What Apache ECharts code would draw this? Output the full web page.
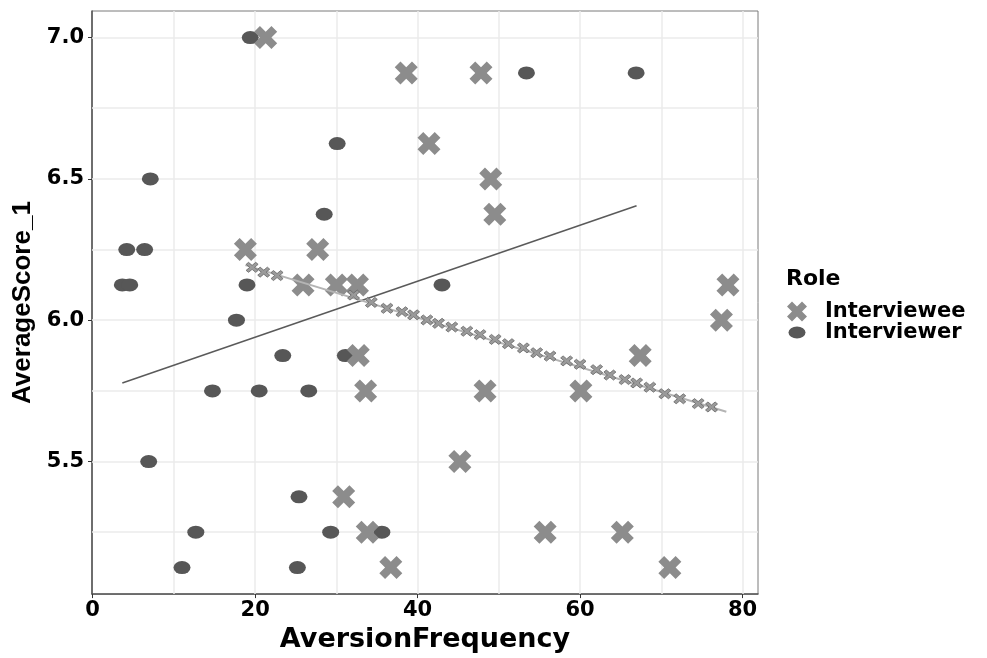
<!DOCTYPE html>
<html>
<head>
<meta charset="utf-8">
<script src="https://cdn.jsdelivr.net/npm/echarts@6/dist/echarts.min.js"></script>
<style>
    html, body { margin: 0; padding: 0; background: #fff; }
    #chart { width: 987px; height: 658px; }
</style>
</head>
<body>
<div id="chart"></div>
<script>
// values
var intervieweeX = [21.3, 18.8, 25.9, 27.7, 38.6, 47.8, 41.4, 49.0, 49.5, 30.0, 32.6, 78.2, 32.7,
    33.6, 48.3, 45.2, 30.9, 33.8, 36.7, 77.4, 67.4, 60.1, 55.7, 65.2, 71.05];
var intervieweeY = [7.0, 6.25, 6.125, 6.25, 6.875, 6.875, 6.625, 6.5, 6.375, 6.125, 6.125, 6.125, 5.875,
    5.75, 5.75, 5.5, 5.375, 5.25, 5.125, 6.0, 5.875, 5.75, 5.25, 5.25, 5.125];

var interviewerX = [19.4, 7.1, 4.2, 6.4, 3.65, 4.57, 19.0, 53.4, 30.1, 28.5, 43.0, 66.9, 17.7,
    23.4, 14.75, 20.5, 26.6, 6.9, 25.4, 12.7, 11.0, 25.2, 31.1, 29.3, 35.6];
var interviewerY = [7.0, 6.5, 6.25, 6.25, 6.125, 6.125, 6.125, 6.875, 6.625, 6.375, 6.125, 6.875, 6.0,
    5.875, 5.75, 5.75, 5.75, 5.5, 5.375, 5.25, 5.125, 5.125, 5.875, 5.25, 5.25];

// fitted lines (end points)
var interviewerFitX = [3.65, 66.95];
var interviewerFitY = [5.778, 6.405];
var intervieweeFitX = [18.8, 78.0];
var intervieweeFitY = [6.195, 5.676];

// small crosses along the interviewee fit
var fitMarkX = [19.63, 21.06, 22.70, 32.12, 34.30, 36.23, 38.07, 39.50, 41.14, 42.57, 44.21, 46.06,
    47.69, 49.54, 51.17, 53.02, 54.66, 56.30, 58.35, 59.99, 62.04, 63.67, 65.52, 66.96, 68.59,
    70.43, 72.27, 74.53, 76.18];
var fitMarkY = [6.187, 6.170, 6.158, 6.089, 6.063, 6.042, 6.030, 6.019, 6.001, 5.989, 5.976, 5.961,
    5.949, 5.932, 5.917, 5.902, 5.885, 5.873, 5.856, 5.844, 5.825, 5.806, 5.790, 5.778, 5.763,
    5.740, 5.722, 5.705, 5.693];

var xTicks = [0, 20, 40, 60, 80];
var yTicks = [5.5, 6.0, 6.5, 7.0];
var xGrid = [10, 20, 30, 40, 50, 60, 70, 80];
var yGrid = [5.25, 5.5, 5.75, 6.0, 6.25, 6.5, 6.75, 7.0];
var roles = ['Interviewee', 'Interviewer'];

var crossPath = 'path://M2.5,0L5,2.5L7.5,0L10,2.5L7.5,5L10,7.5L7.5,10L5,7.5L2.5,10L0,7.5L2.5,5L0,2.5Z';
var smallCross = 'path://M2,0L5,3L8,0L10,2L7,5L10,8L8,10L5,7L2,10L0,8L3,5L0,2Z';
var ellipsePath = 'path://M0,6A8.5,6 0 1,0 17,6A8.5,6 0 1,0 0,6Z';
var ellipseLegend = 'path://M0,0M22,20M2.5,10A8.5,6 0 1,0 19.5,10A8.5,6 0 1,0 2.5,10Z';

function pairs(xs, ys) {
    var out = [];
    for (var i = 0; i < xs.length; i++) out.push([xs[i], ys[i]]);
    return out;
}

var gridLines = [];
xGrid.forEach(function (v) { gridLines.push({ xAxis: v }); });
yGrid.forEach(function (v) { gridLines.push({ yAxis: v }); });

var tickFont = {
    color: '#000',
    fontFamily: 'DejaVu Sans',
    fontWeight: 'bold',
    fontSize: 21
};

var chart = echarts.init(document.getElementById('chart'));
chart.setOption({
    animation: false,
    backgroundColor: '#fff',
    title: {
        text: 'Role',
        left: 786,
        top: 268,
        padding: 0,
        textStyle: { color: '#000', fontFamily: 'DejaVu Sans', fontWeight: 'bold', fontSize: 22 }
    },
    legend: {
        data: [
            { name: roles[0], icon: crossPath },
            { name: roles[1], icon: ellipseLegend }
        ],
        orient: 'vertical',
        left: 786,
        top: 301,
        padding: 0,
        itemWidth: 22,
        itemHeight: 20,
        itemGap: 0,
        selectedMode: false,
        textStyle: {
            color: '#000', fontFamily: 'DejaVu Sans', fontWeight: 'bold', fontSize: 21,
            lineHeight: 20, padding: [0, 0, 0, 12]
        }
    },
    grid: {
        left: 92, right: 229, top: 11, bottom: 58,
        show: true,
        borderColor: '#7a7a7a',
        borderWidth: 1
    },
    xAxis: {
        type: 'value',
        min: -0.08,
        max: 81.9,
        name: 'AversionFrequency',
        nameLocation: 'middle',
        nameGap: 25,
        nameTextStyle: { color: '#000', fontFamily: 'DejaVu Sans', fontWeight: 'bold', fontSize: 27 },
        axisLine: { show: true, onZero: false, lineStyle: { color: '#555', width: 1.5 } },
        axisTick: { show: true, length: 4, customValues: xTicks, lineStyle: { color: '#333' } },
        axisLabel: Object.assign({ customValues: xTicks, margin: 6 }, tickFont),
        splitLine: { show: false }
    },
    yAxis: {
        type: 'value',
        min: 5.031,
        max: 7.094,
        name: 'AverageScore_1',
        nameLocation: 'middle',
        nameGap: 50,
        nameTextStyle: { color: '#000', fontFamily: 'Liberation Sans', fontWeight: 'bold', fontSize: 26 },
        axisLine: { show: true, onZero: false, lineStyle: { color: '#555', width: 1.5 } },
        axisTick: { show: true, length: 4, customValues: yTicks, lineStyle: { color: '#333' } },
        axisLabel: Object.assign({
            customValues: yTicks,
            margin: 8,
            formatter: function (v) { return v.toFixed(1); }
        }, tickFont),
        splitLine: { show: false }
    },
    series: [
        {
            name: 'grid',
            type: 'line',
            data: [],
            z: 1,
            silent: true,
            markLine: {
                silent: true,
                z: 1,
                symbol: ['none', 'none'],
                label: { show: false },
                lineStyle: { color: '#ebebeb', width: 1.5, type: 'solid' },
                emphasis: { disabled: true },
                data: gridLines
            }
        },
        {
            name: roles[1],
            type: 'scatter',
            z: 3,
            symbol: ellipsePath,
            symbolSize: [17, 13],
            itemStyle: { color: '#575757', opacity: 1 },
            data: pairs(interviewerX, interviewerY)
        },
        {
            name: roles[0],
            type: 'scatter',
            z: 4,
            symbol: crossPath,
            symbolSize: [23, 23],
            itemStyle: { color: '#8c8c8c', opacity: 1 },
            data: pairs(intervieweeX, intervieweeY)
        },
        {
            name: 'Interviewer fit',
            type: 'line',
            z: 5,
            showSymbol: false,
            lineStyle: { color: '#5a5a5a', width: 1.5 },
            data: pairs(interviewerFitX, interviewerFitY)
        },
        {
            name: 'Interviewee fit',
            type: 'line',
            z: 5,
            showSymbol: false,
            lineStyle: { color: '#b4b4b4', width: 2 },
            data: pairs(intervieweeFitX, intervieweeFitY)
        },
        {
            name: 'Interviewee fit marks',
            type: 'scatter',
            z: 6,
            symbol: smallCross,
            symbolSize: [12, 10],
            itemStyle: { color: '#9a9a9a', borderColor: '#666', borderWidth: 0.8, opacity: 1 },
            data: pairs(fitMarkX, fitMarkY)
        }
    ]
});
</script>
</body>
</html>
